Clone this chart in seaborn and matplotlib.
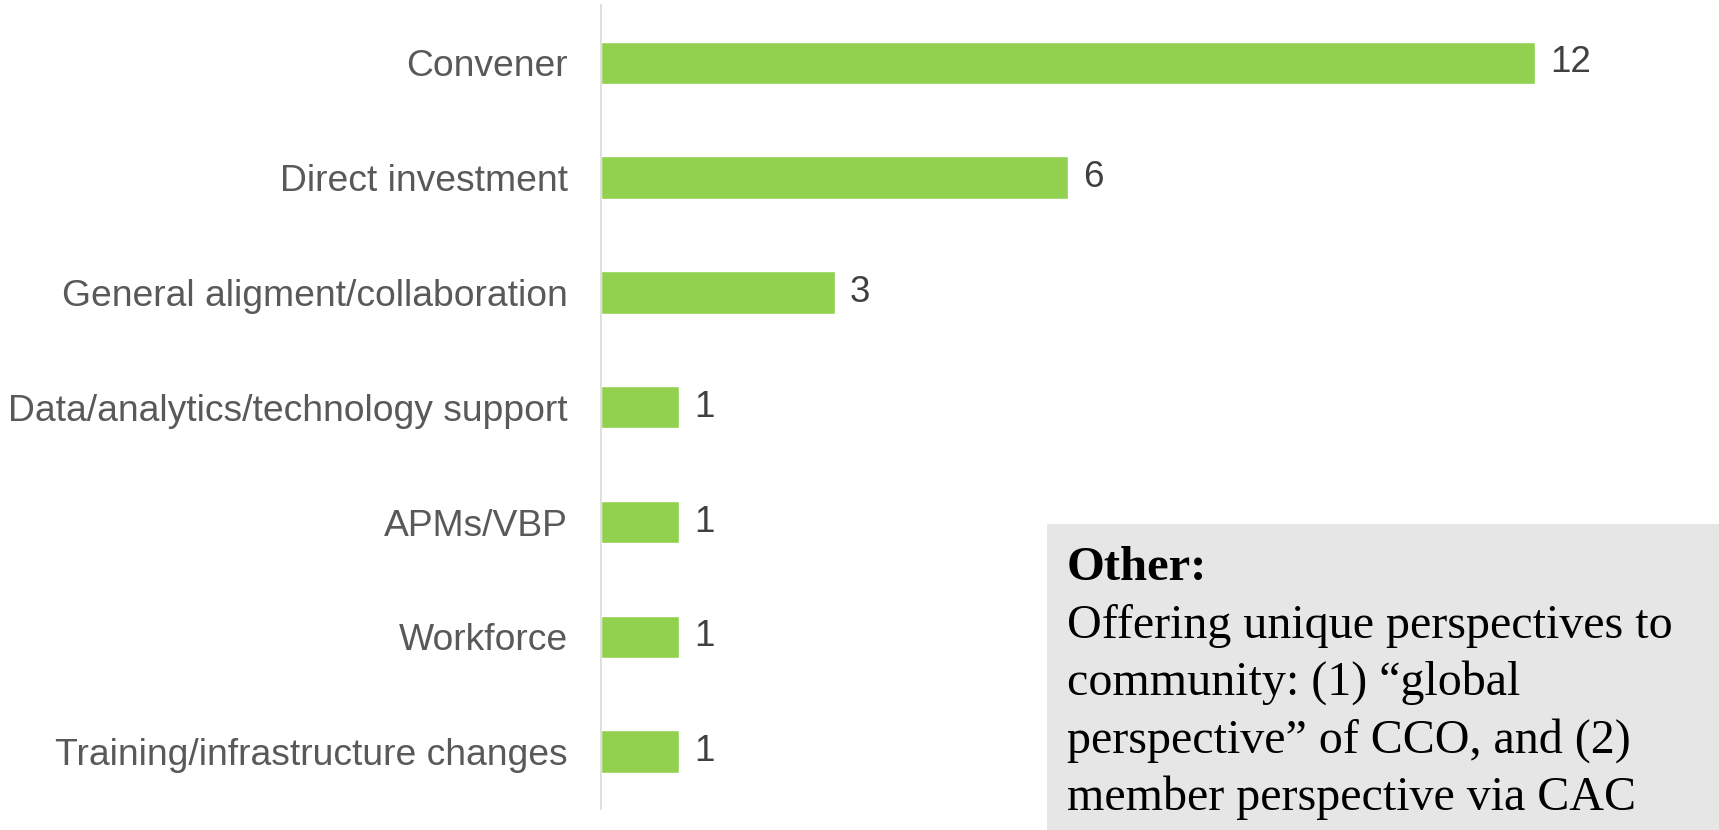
# Horizontal bar chart: roles, with a grey "Other" note box

import matplotlib
matplotlib.use("Agg")
import matplotlib.pyplot as plt
import seaborn as sns
from matplotlib.patches import Rectangle

# data
categories = [
    "Convener",
    "Direct investment",
    "General aligment/collaboration",
    "Data/analytics/technology support",
    "APMs/VBP",
    "Workforce",
    "Training/infrastructure changes",
]
counts = [12, 6, 3, 1, 1, 1, 1]

note_title = "Other:"
note_lines = [
    "Offering unique perspectives to",
    "community: (1) \u201cglobal",
    "perspective\u201d of CCO, and (2)",
    "member perspective via CAC",
]

sns.set_style("white")
plt.rcParams["font.family"] = ["Liberation Sans", "DejaVu Sans"]

fig = plt.figure(figsize=(17.19, 8.30), dpi=100)
ax = fig.add_axes([0.3496, 0.0253, 0.64, 0.9681])

sns.barplot(x=counts, y=categories, orient="h", color="#92D050",
            width=0.37, saturation=1, ax=ax)

ax.set_xlim(0, 14.13)
ax.set_ylim(6.5, -0.5)
ax.set_xticks([])
ax.set_xlabel("")
ax.set_ylabel("")
ax.tick_params(axis="y", length=0, pad=24, labelsize=26.8, labelcolor="#595959")

for s in ["top", "right", "bottom"]:
    ax.spines[s].set_visible(False)
ax.spines["left"].set_color("#D9D9D9")
ax.spines["left"].set_linewidth(1.2)

# value labels
for i, v in enumerate(counts):
    ax.annotate(str(v), (v, i), xytext=(11, 0), textcoords="offset points",
                va="center", ha="left", fontsize=26.5, color="#404040")

# note box
fig.patches.append(Rectangle((0.609, 0), 0.391, 0.3687, transform=fig.transFigure,
                             facecolor="#E6E6E6", edgecolor="none", zorder=0))
serif = ["Liberation Serif", "DejaVu Serif"]
x0 = 1067 / 1719
base = 580
fig.text(x0, 1 - base / 830, note_title, family=serif, fontsize=35,
         fontweight="bold", va="baseline", ha="left", color="black")
for k, line in enumerate(note_lines):
    y = base + 57.5 * (k + 1)
    fig.text(x0, 1 - y / 830, line, family=serif, fontsize=34.6,
             va="baseline", ha="left", color="black")

fig.savefig("out.png", dpi=100)
